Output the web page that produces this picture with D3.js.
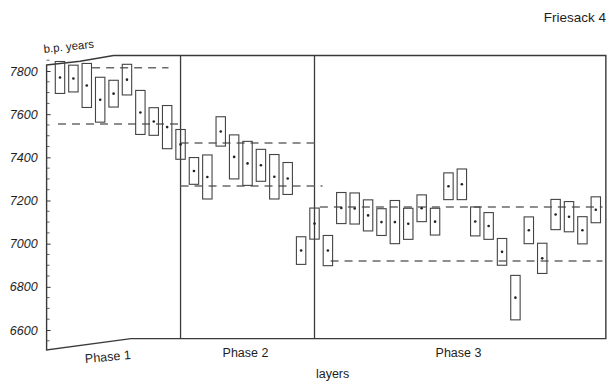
<!DOCTYPE html>
<html>
<head>
<meta charset="utf-8">
<script src="https://cdn.jsdelivr.net/npm/d3@7"></script>
<style>
  html, body { margin: 0; padding: 0; background: #fff; }
  svg { display: block; }
  text { font-family: "Liberation Sans", Arial, Helvetica, sans-serif; fill: #1e1e1e; }
</style>
</head>
<body>
<svg id="chart" width="611" height="382"></svg>
<script>
// Radiocarbon dates per layer (b.p. years): central date and 1-sigma half range
const layers = d3.range(1, 42);
const dates = [
  7770, 7765, 7733, 7667, 7695, 7760, 7608, 7566, 7540, 7460,
  7337, 7309, 7520, 7402, 7372, 7363, 7310, 7302, 6968, 7093,
  6968, 7165, 7163, 7131, 7100, 7100, 7092, 7164, 7102, 7266,
  7275, 7103, 7082, 6962, 6750, 7062, 6932, 7135, 7125, 7062,
  7157
];
const sigmas = [
  74, 62, 102, 104, 62, 71, 102, 64, 100, 69,
  62, 102, 68, 102, 102, 74, 103, 74, 64, 72,
  70, 72, 72, 72, 62, 100, 72, 62, 62, 62,
  71, 67, 62, 62, 103, 62, 70, 70, 70, 63,
  60
];

// Phase boundaries (layer at which a new phase starts) and labels
const phaseNames = ["Phase 1", "Phase 2", "Phase 3"];
const phaseDividers = [10, 20];
const phaseLabelAt = [4.6, 14.85, 30.75];

// Dashed reference levels per phase: [from layer, to layer, years]
const levelFrom = [3.4, 0.85, 10, 10, 20.4, 21.2];
const levelTo   = [9.1, 10, 20.3, 20.6, 41.5, 41.5];
const levelYears = [7815, 7555, 7466, 7267, 7170, 6920];

const yTicks = [6600, 6800, 7000, 7200, 7400, 7600, 7800];

const svg = d3.select("#chart");

const x = d3.scaleLinear().domain([0, 42]).range([46.6, 609.2]);
const y = d3.scaleLinear().domain([6600, 7800]).range([330, 71]);

const ink = "#3a3a3a";

// Plot frame (the layer-1 side leans slightly, as in the printed figure)
const frame = [
  [0, 7828], [2.5, 7845], [5, 7872], [41.75, 7872],
  [41.75, 6560], [6.3, 6560], [0, 6508]
];
svg.append("path")
  .attr("d", d3.line().x(d => x(d[0])).y(d => y(d[1]))(frame) + "Z")
  .attr("fill", "none")
  .attr("stroke", ink)
  .attr("stroke-width", 1.4);

// Phase dividers
svg.selectAll("line.divider").data(phaseDividers).enter().append("line")
  .attr("class", "divider")
  .attr("x1", d => x(d)).attr("x2", d => x(d))
  .attr("y1", y(7872)).attr("y2", y(6560))
  .attr("stroke", ink).attr("stroke-width", 1.3);

// Y axis: labels with inward ticks, minor ticks every 50 years
const yAxis = d3.axisLeft(y).tickValues(yTicks).tickFormat(d3.format("d"))
  .tickSizeInner(-4).tickSizeOuter(0).tickPadding(9);
const gy = svg.append("g").attr("transform", `translate(${x(0)},0)`).call(yAxis);
gy.select(".domain").remove();
gy.selectAll(".tick line").attr("stroke", ink);
gy.selectAll(".tick text")
  .attr("font-size", 12.5).attr("font-style", "italic").attr("fill", "#1e1e1e");

svg.append("g").selectAll("line")
  .data(d3.range(6550, 7851, 50).filter(v => v % 200 !== 0))
  .enter().append("line")
  .attr("x1", x(0)).attr("x2", x(0) + 3)
  .attr("y1", d => y(d)).attr("y2", d => y(d))
  .attr("stroke", ink).attr("stroke-width", 0.8);

// Dashed reference levels
svg.selectAll("line.level").data(levelYears).enter().append("line")
  .attr("class", "level")
  .attr("x1", (d, i) => x(levelFrom[i])).attr("x2", (d, i) => x(levelTo[i]))
  .attr("y1", d => y(d)).attr("y2", d => y(d))
  .attr("stroke", "#6a6a6a").attr("stroke-width", 1.5)
  .attr("stroke-dasharray", "8,6");

// Date ranges as boxes with a dot at the central date
const boxW = 9.4;
const g = svg.append("g");
g.selectAll("rect").data(layers).enter().append("rect")
  .attr("x", (d, i) => x(d) - boxW / 2)
  .attr("y", (d, i) => y(dates[i] + sigmas[i]))
  .attr("width", boxW)
  .attr("height", (d, i) => y(dates[i] - sigmas[i]) - y(dates[i] + sigmas[i]))
  .attr("fill", "none")
  .attr("stroke", "#444")
  .attr("stroke-width", 1.1);
g.selectAll("circle").data(layers).enter().append("circle")
  .attr("cx", d => x(d))
  .attr("cy", (d, i) => y(dates[i]))
  .attr("r", 1.3)
  .attr("fill", "#222");

// Titles and labels
svg.append("text").attr("x", 606).attr("y", 22).attr("text-anchor", "end")
  .attr("font-size", 13.5).text("Friesack 4");

svg.append("text")
  .attr("transform", `translate(44,53) rotate(-6)`)
  .attr("font-size", 11.5).text("b.p. years");

svg.selectAll("text.phase").data(phaseNames).enter().append("text")
  .attr("class", "phase")
  .attr("text-anchor", "middle")
  .attr("font-size", 12.5)
  .attr("transform", (d, i) => i === 0
    ? `translate(${x(phaseLabelAt[i])},361) rotate(-5)`
    : `translate(${x(phaseLabelAt[i])},357)`)
  .text(d => d);

svg.append("text").attr("x", x(21.35)).attr("y", 378).attr("text-anchor", "middle")
  .attr("font-size", 12.5).text("layers");
</script>
</body>
</html>
